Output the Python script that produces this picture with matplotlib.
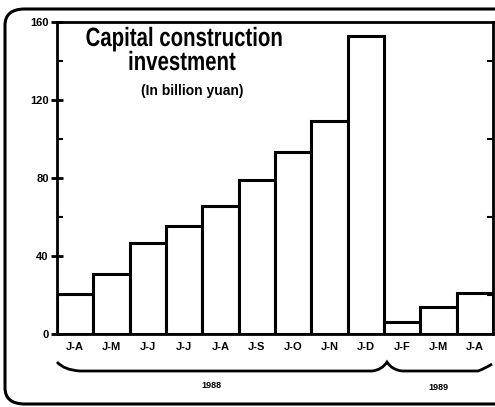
import matplotlib
matplotlib.use('Agg')
import matplotlib.pyplot as plt
from matplotlib.patches import FancyBboxPatch, PathPatch
from matplotlib.path import Path
from matplotlib.textpath import TextPath
from matplotlib.font_manager import FontProperties
from matplotlib.transforms import Affine2D

plt.rcParams['font.family'] = ['Liberation Sans', 'DejaVu Sans']
plt.rcParams['font.weight'] = 'bold'

months = ['J-A', 'J-M', 'J-J', 'J-J', 'J-A', 'J-S', 'J-O', 'J-N', 'J-D', 'J-F', 'J-M', 'J-A']
investment = [20.5, 31, 46.5, 55.5, 65.5, 79, 93.5, 109, 153, 6, 14, 21]
years = ['1988', '1989']
yticks = [0, 40, 80, 120, 160]
title_lines = ['Capital construction', 'investment']
subtitle = '(In billion yuan)'

W, H = 495, 407
fig = plt.figure(figsize=(W / 100, H / 100), dpi=100)
fig.patch.set_facecolor('white')


def px(x, y):
    # pixel position in the picture -> figure fraction
    return x / W, 1 - y / H


def condensed_text(s, cx, base_y, size, sx):
    # draw bold text squeezed horizontally (the original uses a condensed face)
    prop = FontProperties(family='Liberation Sans', weight='bold')
    tp = TextPath((0, 0), s, size=size, prop=prop)
    ext = tp.get_extents()
    mid = (ext.x0 + ext.x1) / 2
    tr = Affine2D().translate(-mid, 0).scale(sx / W, 1 / H).translate(*px(cx, base_y))
    fig.patches.append(PathPatch(tr.transform_path(tp), transform=fig.transFigure,
                                 color='black', lw=0))


ax = fig.add_axes([57 / W, 1 - 334 / H, (493 - 57) / W, (334 - 22) / H])
ax.bar(range(len(investment)), investment, width=1.0, color='white',
       edgecolor='black', linewidth=2.2)
ax.set_xlim(-0.5, len(investment) - 0.5)
ax.set_ylim(0, 160)
ax.set_yticks(yticks)
ax.set_yticks(range(0, 161, 20), minor=True)
ax.tick_params(axis='y', which='major', direction='inout', length=8, width=2,
               labelsize=8, pad=2)
ax.tick_params(axis='y', which='minor', direction='in', length=4, width=1.5,
               right=True)
ax.set_xticks(range(len(months)))
ax.set_xticklabels(months, fontsize=8, fontweight='bold')
ax.tick_params(axis='x', length=0, pad=6)
for lab in ax.get_yticklabels():
    lab.set_fontweight('bold')
for s in ax.spines.values():
    s.set_linewidth(2)

condensed_text(title_lines[0], 184, 46, 26.5, 0.77)
condensed_text(title_lines[1], 182.5, 70, 26.5, 0.77)
fig.text(*px(192.5, 95), subtitle, ha='center', va='baseline',
         fontsize=10, fontweight='bold')

# brace under the month labels
verts = [px(57, 362), px(64, 370), px(80, 371), px(200, 371), px(372, 371),
         px(382, 370), px(387, 362), px(392, 370), px(402, 371), px(440, 371),
         px(478, 371), px(486, 368), px(492, 364)]
codes = [Path.MOVETO, Path.CURVE3, Path.CURVE3, Path.LINETO, Path.LINETO,
         Path.CURVE3, Path.CURVE3, Path.CURVE3, Path.CURVE3, Path.LINETO,
         Path.LINETO, Path.CURVE3, Path.CURVE3]
fig.patches.append(PathPatch(Path(verts, codes), transform=fig.transFigure,
                             fill=False, lw=2, color='black'))
fig.text(*px(211, 385), years[0], ha='center', va='center', fontsize=6.5, fontweight='bold')
fig.text(*px(438, 388), years[1], ha='center', va='center', fontsize=6.5, fontweight='bold')

# rounded outer frame
x0, y0 = px(5, 404)
x1, y1 = px(520, 9)
frame = FancyBboxPatch((x0, y0), x1 - x0, y1 - y0, boxstyle='round,pad=0,rounding_size=0.04',
                       transform=fig.transFigure, fill=False, lw=2.2, color='black',
                       clip_on=False)
fig.patches.append(frame)

fig.savefig('out.png', dpi=100)
